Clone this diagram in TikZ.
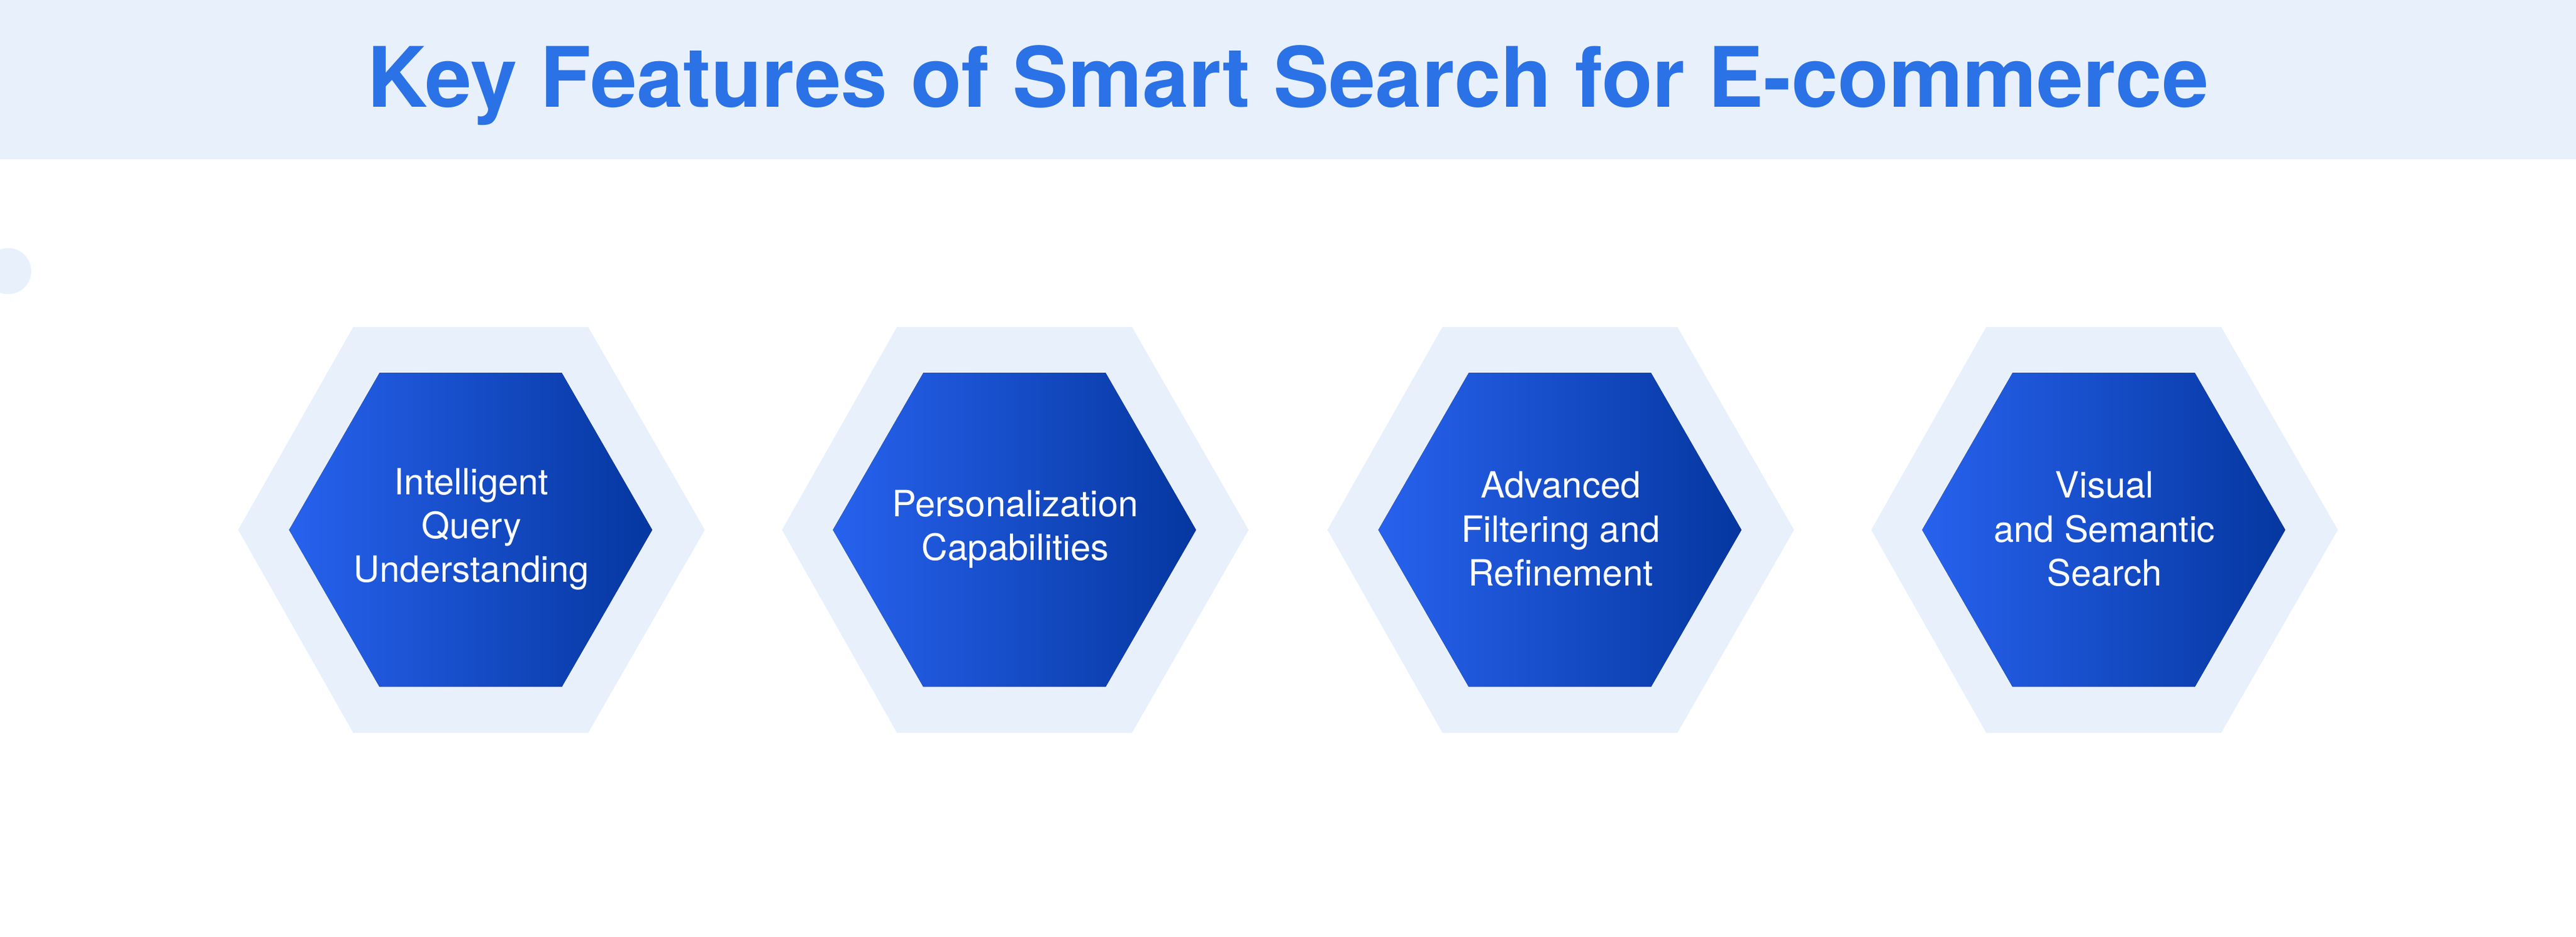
\documentclass[tikz,border=0pt]{standalone}
\usepackage{fontspec}
\setmainfont{TeX Gyre Heros}
\definecolor{paleblue}{HTML}{E8F0FC}
\definecolor{titleblue}{HTML}{2B72E6}
\definecolor{hexleft}{HTML}{2762EE}
\definecolor{hexright}{HTML}{0537A0}
\tikzset{
  outerhex/.style={fill=paleblue},
  innerhex/.style={left color=hexleft, right color=hexright},
  hexlabel/.style={text=white, align=center, font=\fontsize{16.5}{20}\selectfont}
}

\begin{document}
\begin{tikzpicture}[x=0.02632cm, y=-0.02632cm]
        % Page and header band
        \useasboundingbox (0,0) rectangle (1568,570);
        \fill [white] (0,0) rectangle (1568,570);
        \fill [paleblue] (0,0) rectangle (1568,97);
        \node (title) [text=titleblue, font=\fontsize{38}{44}\bfseries] at (784,52) {Key Features of Smart Search for E-commerce};

        % Small dot at left edge
        \fill [paleblue] (5,165) circle [radius=14];

        % Hexagons
        \foreach \cx/\name/\txt in {287/hexA/{Intelligent\\Query\\Understanding},
                                  618/hexB/{Personalization\\Capabilities},
                                  950/hexC/{Advanced\\Filtering and\\Refinement},
                                  1281/hexD/{Visual\\and Semantic\\Search}} {
            \fill [outerhex] (\cx-142,322.5) -- (\cx-72,199) -- (\cx+71,199) -- (\cx+142,322.5) -- (\cx+71,446) -- (\cx-72,446) -- cycle;
            \fill [innerhex] (\cx-111,322.5) -- (\cx-56,227) -- (\cx+55,227) -- (\cx+110,322.5) -- (\cx+55,418) -- (\cx-56,418) -- cycle;
            \node (\name) [hexlabel] at (\cx,322) {\txt};
        }
    \end{tikzpicture}
\end{document}
